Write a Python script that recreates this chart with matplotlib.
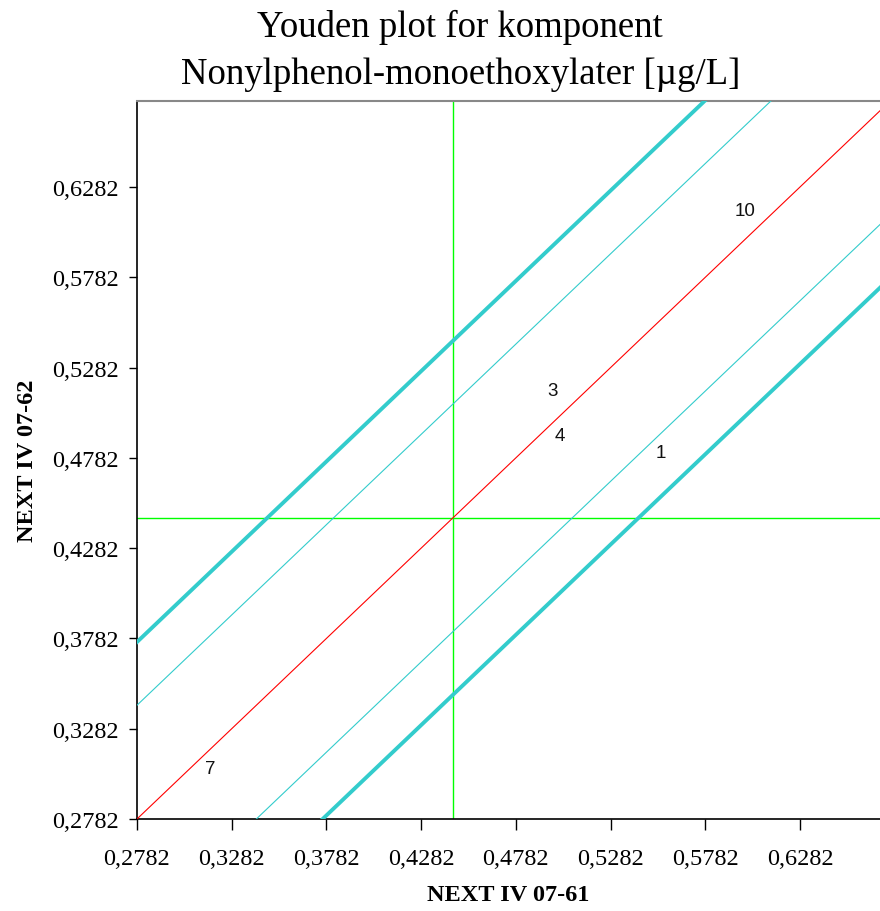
import matplotlib
matplotlib.use("Agg")
import matplotlib.pyplot as plt
from matplotlib.ticker import FixedLocator, FuncFormatter

# data
x_min, x_max = 0.2782, 0.6704
y_min, y_max = 0.2782, 0.6758
tick_values = [0.2782, 0.3282, 0.3782, 0.4282, 0.4782, 0.5282, 0.5782, 0.6282]
median_x = 0.445
median_y = 0.445
inner_offset = 0.063
outer_offset = 0.098
lab_ids = ["10", "3", "4", "1", "7"]
lab_x = [0.5992, 0.4973, 0.5015, 0.5549, 0.3167]
lab_y = [0.6149, 0.5157, 0.4903, 0.4809, 0.3064]

serif = "Liberation Serif"
sans = "Liberation Sans"

fig = plt.figure(figsize=(8.8, 9.12), dpi=100)
ax = fig.add_axes([137 / 880, 1 - 820 / 912, 1 - 137 / 880, (820 - 102) / 912])

xs = [x_min - 0.2, x_max + 0.2]

# diagonal (y = x) and tolerance bands
ax.plot(xs, [v for v in xs], color="#ff0000", lw=0.8, zorder=3)
for off in (inner_offset, -inner_offset):
    ax.plot(xs, [v + off for v in xs], color="#33cccc", lw=0.8, zorder=3)
for off in (outer_offset, -outer_offset):
    ax.plot(xs, [v + off for v in xs], color="#33cccc", lw=2.8, zorder=3)

# medians
ax.axvline(median_x, color="#00ff00", lw=1.0, zorder=2)
ax.axhline(median_y, color="#00ff00", lw=1.0, zorder=2)

for lab, lx, ly in zip(lab_ids, lab_x, lab_y):
    ax.text(lx, ly, lab, ha="center", va="center", fontsize=13.5,
            family=sans, color="#111111", zorder=4)

ax.set_xlim(x_min, x_max)
ax.set_ylim(y_min, y_max)

fmt = FuncFormatter(lambda v, p: ("%.4f" % v).replace(".", ","))
ax.xaxis.set_major_locator(FixedLocator(tick_values))
ax.yaxis.set_major_locator(FixedLocator(tick_values))
ax.xaxis.set_major_formatter(fmt)
ax.yaxis.set_major_formatter(fmt)
ax.tick_params(axis="x", direction="out", length=8, width=1, pad=13)
ax.tick_params(axis="y", direction="out", length=6, width=1, pad=7)
for lbl in ax.get_xticklabels() + ax.get_yticklabels():
    lbl.set_fontfamily(serif)
    lbl.set_fontsize(17.5)

ax.spines["right"].set_visible(False)
ax.spines["top"].set_color("#888888")
ax.spines["top"].set_linewidth(1.5)
ax.spines["left"].set_linewidth(1.2)
ax.spines["bottom"].set_linewidth(1.2)

ax.set_xlabel("NEXT IV 07-61", fontsize=17.5, fontweight="bold", family=serif, labelpad=11)
ax.set_ylabel("NEXT IV 07-62", fontsize=17.5, fontweight="bold", family=serif, labelpad=10)

fig.text(0.523, 1 - 27 / 912, "Youden plot for komponent", ha="center", va="center",
         fontsize=26.5, family=serif)
fig.text(0.523, 1 - 75 / 912, "Nonylphenol-monoethoxylater [µg/L]", ha="center", va="center",
         fontsize=26.5, family=serif)

fig.savefig("out.png", dpi=100)
